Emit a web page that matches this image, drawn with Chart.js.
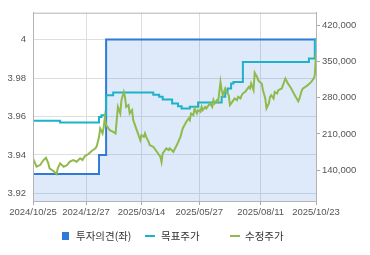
<!DOCTYPE html>
<html>
<head>
<meta charset="utf-8">
<script src="https://cdn.jsdelivr.net/npm/chart.js@4.4.0/dist/chart.umd.min.js"></script>
<style>
  body { margin: 0; background: #fff; }
  #wrap { position: relative; width: 370px; height: 255px; }
  #legend { position: absolute; left: 0; top: 229px; width: 370px; height: 14px;
            font-family: "Noto Sans CJK KR", sans-serif; font-size: 10.5px; color: #333; }
  #legend span { position: absolute; line-height: 14px; top: 0; }
  #legend i { position: absolute; display: block; }
</style>
</head>
<body>
<div id="wrap">
  <canvas id="chart" width="370" height="255"></canvas>
  <div id="legend">
    <i style="left:62px;top:3px;width:7px;height:8px;background:#2f7ad8"></i>
    <span style="left:76px">투자의견(좌)</span>
    <i style="left:145px;top:6px;width:10px;height:2px;background:#1db2c9"></i>
    <span style="left:161px">목표주가</span>
    <i style="left:230px;top:6px;width:10px;height:2px;background:#8fbb4c"></i>
    <span style="left:245px">수정주가</span>
  </div>
</div>
<script>
// ===== Data =====
const xTickIdx = [0, 45, 92, 141, 193, 240];
const xLabels = ['2024/10/25', '2024/12/27', '2025/03/14', '2025/05/27', '2025/08/11', '2025/10/23'];

// 투자의견 (left axis), step points: value changes at idx
const opinionIdx = [0, 56, 62, 240];
const opinionVal = [3.93, 3.94, 4, 4];

// 목표주가 (right axis), step points
const targetIdx = [0, 23, 56, 58, 62, 68, 102, 107, 110, 118, 123, 126, 133, 140, 160, 163, 165, 168, 170, 178, 234, 239, 240];
const targetVal = [235400, 232300, 243000, 246400, 285200, 290400, 286000, 282000, 276800, 269100, 263900, 259400, 262500, 271000, 282000, 291500, 298100, 307800, 310900, 349600, 356200, 393000, 393000];

// 수정주가 (right axis)
const priceIdx = [0,3,6,9,11,13,14,17,20,21,23,26,29,31,34,37,40,42,44,47,50,53,54,56,57,59,60,61,62,64,65,68,70,71,72,74,75,77,78,79,81,82,84,85,86,88,89,91,92,94,95,96,98,99,102,105,108,109,110,113,115,116,119,122,125,127,130,132,133,134,136,137,139,140,142,143,144,146,147,150,152,153,154,156,157,159,160,161,163,164,166,167,169,170,171,173,174,176,177,178,180,181,183,184,185,187,188,190,191,192,194,195,197,198,200,201,202,204,205,207,208,211,214,216,219,222,225,226,228,229,231,233,236,238,239,240];
const priceVal = [162600,146400,149700,159400,163800,153000,143300,138700,132300,143300,153000,146400,149700,156100,159400,156100,162600,159400,167100,171000,177400,182000,185900,204400,220700,211000,223800,243100,227100,220700,217400,214100,211000,236800,262500,249700,275500,291500,281800,262500,265800,249700,256100,236800,230400,217400,211000,198000,207700,204400,211000,204400,194800,188400,185100,175400,165700,155500,172300,182000,178700,182000,175400,188400,204400,220700,233500,240000,236800,249700,246400,259400,249700,256100,252800,262500,256100,262500,259400,269100,262500,275500,269100,275500,272200,310900,294800,285100,298100,291500,285100,265800,272200,275500,278800,275500,281800,278800,285100,288400,291500,294800,301200,298100,307800,294800,328700,320500,314200,310900,307800,294800,278800,259400,269100,281800,285100,278800,291500,288400,294800,298100,317400,308400,298100,285100,273500,278800,294800,298100,301200,304500,310900,317400,323800,366400];

const leftTicks = [3.92, 3.94, 3.96, 3.98, 4];
const rightTicks = [140000, 210000, 280000, 350000, 420000];

const toXY = (xs, ys) => xs.map((x, i) => ({ x: x, y: ys[i] }));

// ===== Frame around plot =====
const framePlugin = {
    id: 'frame',
    afterDraw(chart) {
        const a = chart.chartArea, ctx = chart.ctx;
        ctx.save();
        ctx.strokeStyle = '#b4b4b4';
        ctx.lineWidth = 1;
        ctx.strokeRect(a.left + 0.5, a.top + 0.5, a.right - a.left, a.bottom - a.top);
        ctx.restore();
    }
};

const tickFont = { family: 'Liberation Sans, Arial, sans-serif', size: 9.5 };

new Chart(document.getElementById('chart'), {
    type: 'line',
    data: {
        datasets: [
            {
                label: '수정주가', data: toXY(priceIdx, priceVal), yAxisID: 'y1',
                borderColor: '#8fbb4c', borderWidth: 2, pointRadius: 0, tension: 0, order: 1
            },
            {
                label: '목표주가', data: toXY(targetIdx, targetVal), yAxisID: 'y1', stepped: true,
                borderColor: '#1db2c9', borderWidth: 2, pointRadius: 0, order: 2
            },
            {
                label: '투자의견(좌)', data: toXY(opinionIdx, opinionVal), yAxisID: 'y', stepped: true,
                borderColor: '#2f7ad8', borderWidth: 2, pointRadius: 0, order: 3,
                fill: 'start', backgroundColor: 'rgba(60,130,220,0.17)'
            }
        ]
    },
    options: {
        responsive: false,
        animation: false,
        layout: { padding: { top: 12, left: 0, right: 0, bottom: 0 } },
        plugins: { legend: { display: false }, tooltip: { enabled: false } },
        scales: {
            x: {
                type: 'linear', min: 0, max: 240,
                afterBuildTicks: s => { s.ticks = xTickIdx.map(v => ({ value: v })); },
                afterFit: s => { s.height = 54; },
                ticks: {
                    font: tickFont, color: '#555', padding: 2, maxRotation: 0, autoSkip: false,
                    callback: v => xLabels[xTickIdx.indexOf(v)]
                },
                grid: { color: '#dedede', tickLength: 4, tickColor: '#aaa' },
                border: { color: '#b4b4b4' }
            },
            y: {
                position: 'left', min: 3.916, max: 4.014,
                afterBuildTicks: s => { s.ticks = leftTicks.map(v => ({ value: v })); },
                afterFit: s => { s.width = 33; },
                ticks: { font: tickFont, color: '#555', padding: 7, callback: v => String(+v.toFixed(2)) },
                grid: { color: '#dedede', drawTicks: false },
                border: { color: '#b4b4b4' }
            },
            y1: {
                position: 'right', min: 80000, max: 445000,
                afterBuildTicks: s => { s.ticks = rightTicks.map(v => ({ value: v })); },
                afterFit: s => { s.width = 54; },
                ticks: { font: tickFont, color: '#555', padding: 2, callback: v => v.toLocaleString('en-US') },
                grid: { drawOnChartArea: false, tickLength: 4, color: '#aaa' },
                border: { color: '#b4b4b4' }
            }
        }
    },
    plugins: [framePlugin]
});
</script>
</body>
</html>
